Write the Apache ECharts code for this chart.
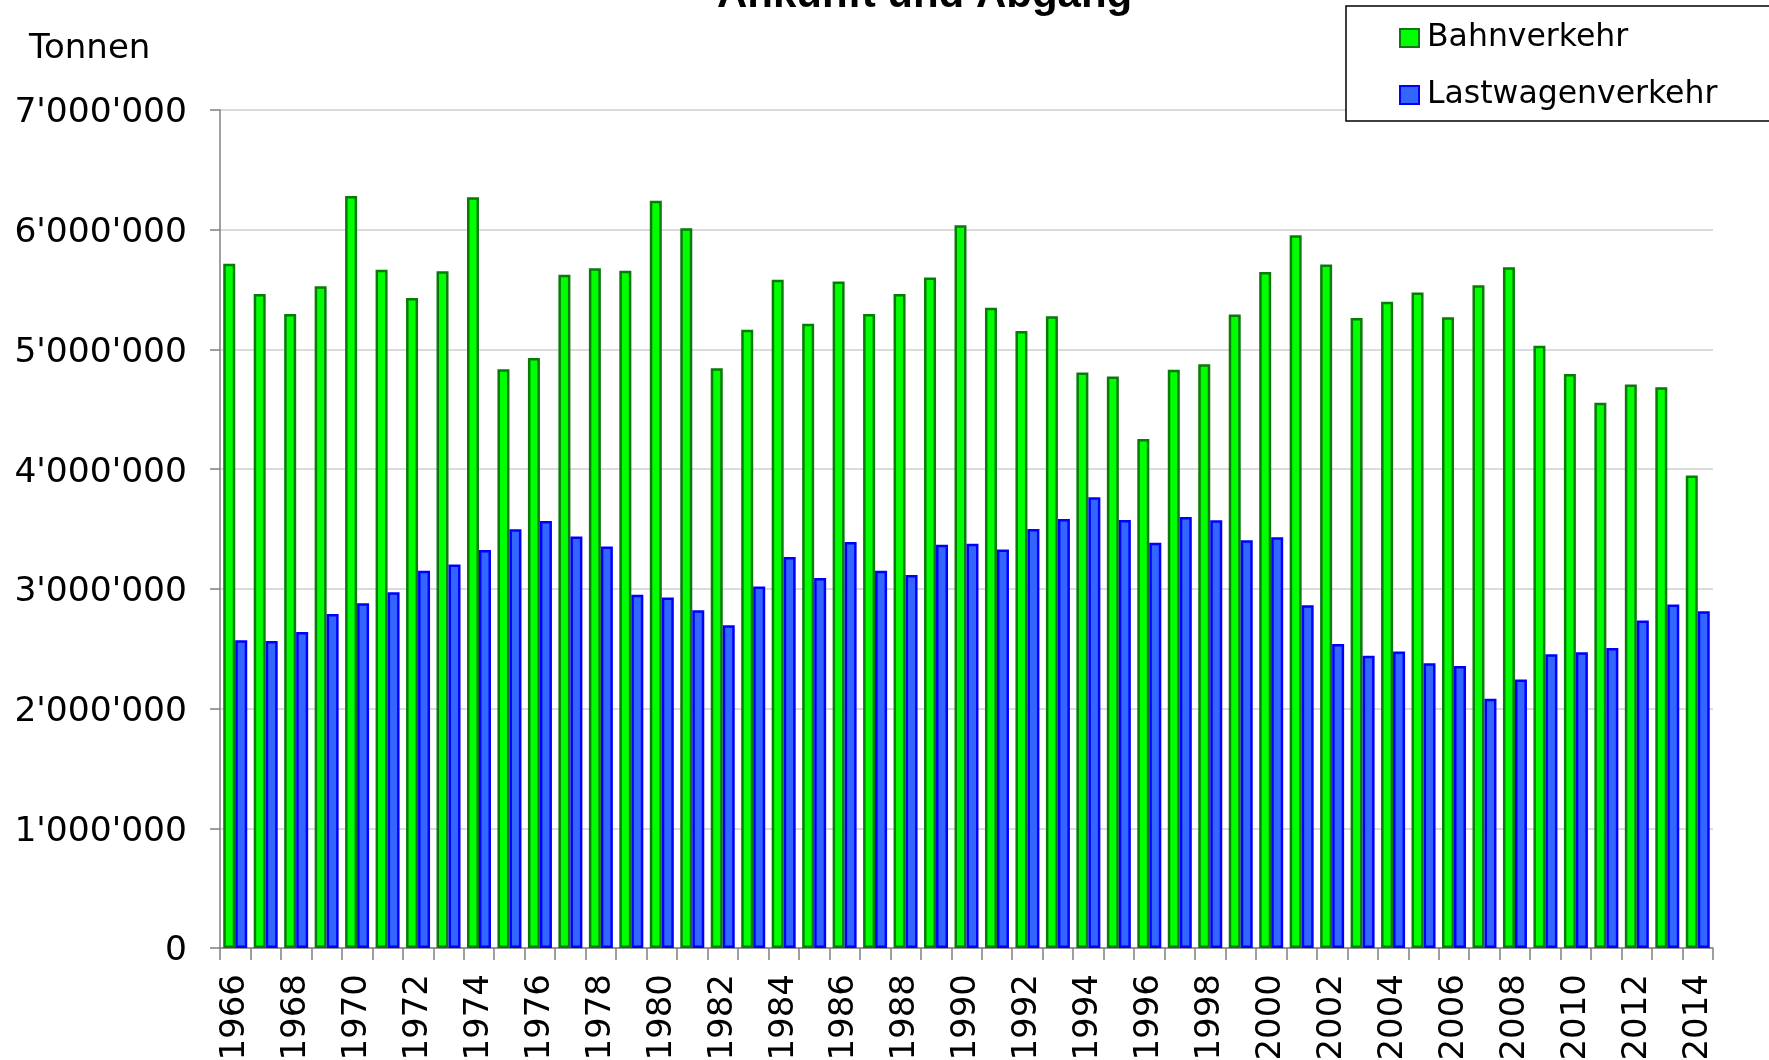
<!DOCTYPE html>
<html>
<head>
<meta charset="utf-8">
<script src="https://cdn.jsdelivr.net/npm/echarts@6/dist/echarts.min.js"></script>
<style>
    html, body { margin: 0; padding: 0; background: #fff; }
    #chart { width: 1769px; height: 1060px; }
</style>
</head>
<body>
<div id="chart"></div>
<script>
// Jahre 1966 - 2014
var years = ['1966', '1967', '1968', '1969', '1970', '1971', '1972', '1973', '1974', '1975',
    '1976', '1977', '1978', '1979', '1980', '1981', '1982', '1983', '1984', '1985',
    '1986', '1987', '1988', '1989', '1990', '1991', '1992', '1993', '1994', '1995',
    '1996', '1997', '1998', '1999', '2000', '2001', '2002', '2003', '2004', '2005',
    '2006', '2007', '2008', '2009', '2010', '2011', '2012', '2013', '2014'];

// Tonnen, Bahnverkehr
var bahn = [5715000, 5462000, 5295000, 5528000, 6282000, 5666000, 5430000, 5652000, 6271000, 4834000,
    4929000, 5623000, 5678000, 5657000, 6242000, 6012000, 4842000, 5165000, 5582000, 5214000,
    5568000, 5295000, 5464000, 5600000, 6037000, 5349000, 5153000, 5277000, 4808000, 4773000,
    4252000, 4831000, 4877000, 5292000, 5646000, 5954000, 5709000, 5263000, 5398000, 5476000,
    5269000, 5536000, 5686000, 5030000, 4794000, 4555000, 4707000, 4684000, 3947000];

// Tonnen, Lastwagenverkehr
var lastwagen = [2571000, 2565000, 2640000, 2790000, 2879000, 2971000, 3152000, 3204000, 3325000, 3498000,
    3567000, 3437000, 3354000, 2951000, 2928000, 2821000, 2697000, 3020000, 3267000, 3091000,
    3391000, 3152000, 3115000, 3368000, 3377000, 3328000, 3501000, 3584000, 3766000, 3576000,
    3386000, 3601000, 3573000, 3406000, 3432000, 2864000, 2539000, 2441000, 2476000, 2378000,
    2355000, 2081000, 2242000, 2453000, 2470000, 2507000, 2735000, 2870000, 2813000];

var yMax = 7000000;
var yStep = 1000000;

var chart = echarts.init(document.getElementById('chart'));

// 7'000'000 Schreibweise
function tausender(v) {
    return '{v|' + String(v).replace(/\B(?=(\d{3})+(?!\d))/g, "'") + '}';
}

var option = {
    animation: false,
    backgroundColor: '#ffffff',
    textStyle: {
        fontFamily: 'DejaVu Sans'
    },
    title: [{
        text: 'Ankunft und Abgang',
        left: 712,
        top: -31,
        textStyle: {
            fontFamily: 'Liberation Sans',
            fontWeight: 'bold',
            fontSize: 42,
            color: '#000'
        }
    }, {
        text: 'Tonnen',
        left: 29,
        top: 32,
        padding: 0,
        textStyle: {
            fontFamily: 'DejaVu Sans',
            fontWeight: 'normal',
            fontSize: 34,
            color: '#000'
        }
    }],
    legend: {
        orient: 'vertical',
        left: 1346,
        top: 6,
        padding: [14, 80, 8, 53],
        itemGap: 21,
        itemWidth: 19,
        itemHeight: 18,
        icon: 'rect',
        backgroundColor: '#fff',
        borderColor: '#000',
        borderWidth: 1.5,
        borderRadius: 0,
        textStyle: {
            fontFamily: 'DejaVu Sans',
            fontSize: 31.5,
            lineHeight: 36,
            color: '#000',
            padding: [0, 0, 0, 3]
        },
        data: ['Bahnverkehr', 'Lastwagenverkehr']
    },
    grid: {
        left: 220,
        right: 56,
        top: 110,
        bottom: 112,
        containLabel: false,
        outerBoundsMode: 'none'
    },
    xAxis: {
        type: 'category',
        data: years,
        boundaryGap: true,
        axisLine: {
            lineStyle: { color: '#808080', width: 1.5 }
        },
        axisTick: {
            show: true,
            interval: 0,
            length: 12,
            lineStyle: { color: '#808080', width: 1.5 }
        },
        axisLabel: {
            interval: 1,
            rotate: 90,
            margin: 26,
            fontFamily: 'DejaVu Sans',
            fontSize: 34,
            color: '#000'
        }
    },
    yAxis: {
        type: 'value',
        min: 0,
        max: yMax,
        interval: yStep,
        axisLine: {
            show: true,
            lineStyle: { color: '#808080', width: 1.5 }
        },
        axisTick: {
            show: true,
            length: 10,
            lineStyle: { color: '#808080', width: 1.5 }
        },
        axisLabel: {
            margin: 33,
            color: '#000',
            formatter: tausender,
            rich: {
                v: {
                    fontFamily: 'DejaVu Sans',
                    fontSize: 34.5,
                    color: '#000',
                    padding: [7, 0, 0, 0]
                }
            }
        },
        splitLine: {
            show: true,
            lineStyle: { color: '#cfcfcf', width: 1.5 }
        }
    },
    series: [{
        name: 'Bahnverkehr',
        type: 'bar',
        data: bahn,
        barWidth: 12,
        barGap: '0%',
        itemStyle: {
            color: '#00ff00',
            borderColor: '#0a7a0a',
            borderWidth: 2.5
        }
    }, {
        name: 'Lastwagenverkehr',
        type: 'bar',
        data: lastwagen,
        barWidth: 12,
        barGap: '0%',
        itemStyle: {
            color: '#3366ff',
            borderColor: '#0000ff',
            borderWidth: 2.5
        }
    }]
};

chart.setOption(option);
</script>
</body>
</html>
